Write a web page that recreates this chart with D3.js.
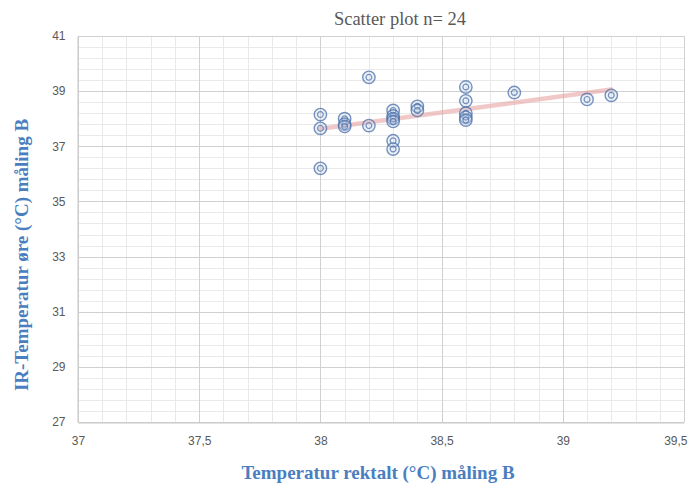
<!DOCTYPE html>
<html>
<head>
<meta charset="utf-8">
<script src="https://cdn.jsdelivr.net/npm/d3@7"></script>
<style>
  html, body { margin: 0; padding: 0; background: #ffffff; }
  svg { display: block; }
</style>
</head>
<body>
<svg id="chart" width="697" height="484"></svg>
<script>
// Paired measurements: rectal temperature vs. IR ear temperature (°C), measurement B
const rectal = [
  38.0, 38.0, 38.0,
  38.1, 38.1, 38.1,
  38.2, 38.2,
  38.3, 38.3, 38.3, 38.3, 38.3, 38.3,
  38.4, 38.4,
  38.6, 38.6, 38.6, 38.6, 38.6,
  38.8, 39.1, 39.2
];
const irEar = [
  38.15, 37.65, 36.2,
  38.0, 37.8, 37.72,
  39.5, 37.75,
  38.3, 38.1, 38.0, 37.9, 37.2, 36.9,
  38.45, 38.3,
  39.15, 38.65, 38.2, 38.05, 37.95,
  38.95, 38.7, 38.85
];
const xTicks = [37, 37.5, 38, 38.5, 39, 39.5];
const yTicks = [27, 29, 31, 33, 35, 37, 39, 41];
const titleText = "Scatter plot n= 24";
const xLabel = "Temperatur rektalt (°C) måling B";
const yLabel = "IR-Temperatur øre (°C) måling B";

const svg = d3.select("#chart");
const plotL = 78, plotR = 684, plotT = 36, plotB = 422;

const x = d3.scaleLinear().domain([37, 39.5]).range([plotL, plotR]);
const y = d3.scaleLinear().domain([27, 41]).range([plotB, plotT]);

const nb = d3.formatLocale({ decimal: ",", thousands: ".", grouping: [3], currency: ["", " kr"] });
const fmt = v => nb.format("~g")(v);

// minor grid
const g = svg.append("g");
g.selectAll("line.vminor").data(d3.range(37, 39.5001, 0.1)).join("line")
  .attr("x1", d => Math.round(x(d)) + 0.5).attr("x2", d => Math.round(x(d)) + 0.5)
  .attr("y1", plotT).attr("y2", plotB)
  .attr("stroke", "#e9e9e9").attr("stroke-width", 1);
g.selectAll("line.hminor").data(d3.range(27, 41.0001, 0.4)).join("line")
  .attr("y1", d => Math.round(y(d)) + 0.5).attr("y2", d => Math.round(y(d)) + 0.5)
  .attr("x1", plotL).attr("x2", plotR)
  .attr("stroke", "#e9e9e9").attr("stroke-width", 1);

// major grid
const gM = svg.append("g");
gM.selectAll("line.vmajor").data(xTicks).join("line")
  .attr("x1", d => Math.round(x(d)) + 0.5).attr("x2", d => Math.round(x(d)) + 0.5)
  .attr("y1", plotT).attr("y2", plotB)
  .attr("stroke", "#d0d0d0").attr("stroke-width", 1);
const gH = svg.append("g");
gH.selectAll("line.hmajor").data(yTicks).join("line")
  .attr("y1", d => Math.round(y(d)) + 0.5).attr("y2", d => Math.round(y(d)) + 0.5)
  .attr("x1", plotL).attr("x2", plotR)
  .attr("stroke", "#d0d0d0").attr("stroke-width", 1);

// axes
const xAxis = svg.append("g")
  .attr("transform", `translate(0,${plotB + 0.5})`)
  .call(d3.axisBottom(x).tickValues(xTicks).tickFormat(fmt).tickSize(0).tickPadding(14));
xAxis.select(".domain").attr("stroke", "#c8c8c8");
xAxis.selectAll("text").attr("fill", "#595959").attr("font-size", 12)
  .attr("font-family", "'Liberation Sans', Arial, sans-serif");
xAxis.selectAll(".tick").filter(d => d === 39.5).select("text")
  .attr("text-anchor", "end").attr("dx", 3);

const yAxis = svg.append("g")
  .attr("transform", `translate(${plotL - 0.5},0)`)
  .call(d3.axisLeft(y).tickValues(yTicks).tickFormat(fmt).tickSize(0).tickPadding(12));
yAxis.select(".domain").attr("stroke", "#c8c8c8");
yAxis.selectAll("text").attr("fill", "#595959").attr("font-size", 12)
  .attr("font-family", "'Liberation Sans', Arial, sans-serif");

// linear trend line (least squares)
const mx = d3.mean(rectal), my = d3.mean(irEar);
const sxy = d3.sum(rectal, (v, i) => (v - mx) * (irEar[i] - my));
const sxx = d3.sum(rectal, v => (v - mx) * (v - mx));
const slope = sxy / sxx, icpt = my - slope * mx;
const [x0, x1] = d3.extent(rectal);
svg.append("line")
  .attr("x1", x(x0)).attr("y1", y(icpt + slope * x0))
  .attr("x2", x(x1)).attr("y2", y(icpt + slope * x1))
  .attr("stroke", "#e8a3a3").attr("stroke-opacity", 0.6)
  .attr("stroke-width", 4.5).attr("stroke-linecap", "round");

// markers: double ring
const pts = svg.append("g").selectAll("g").data(rectal.map((v, i) => [v, irEar[i]])).join("g")
  .attr("transform", d => `translate(${x(d[0])},${y(d[1])})`);
pts.append("circle").attr("r", 6.2)
  .attr("fill", "#c9d6ea").attr("fill-opacity", 0.35)
  .attr("stroke", "#4a6fa8").attr("stroke-opacity", 0.75).attr("stroke-width", 1.4);
pts.append("circle").attr("r", 2.9)
  .attr("fill", "none")
  .attr("stroke", "#4a6fa8").attr("stroke-opacity", 0.75).attr("stroke-width", 1.2);

// title and axis titles
svg.append("text").attr("x", 400).attr("y", 25).attr("text-anchor", "middle")
  .attr("font-family", "'Liberation Serif', 'Times New Roman', serif")
  .attr("font-size", 18.5).attr("fill", "#595959").text(titleText);

svg.append("text").attr("x", 378).attr("y", 479).attr("text-anchor", "middle")
  .attr("font-family", "'Liberation Serif', 'Times New Roman', serif")
  .attr("font-weight", "bold").attr("font-size", 19).attr("fill", "#4a7ebf").text(xLabel);

svg.append("text").attr("transform", "translate(28,255) rotate(-90)").attr("text-anchor", "middle")
  .attr("font-family", "'Liberation Serif', 'Times New Roman', serif")
  .attr("font-weight", "bold").attr("font-size", 19).attr("fill", "#4a7ebf").text(yLabel);
</script>
</body>
</html>
